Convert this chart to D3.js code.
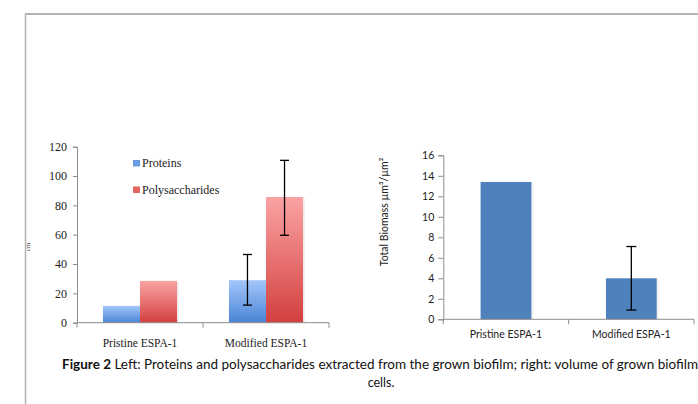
<!DOCTYPE html>
<html>
<head>
<meta charset="utf-8">
<script src="https://cdn.jsdelivr.net/npm/d3@7"></script>
<style>
	body { margin: 0; background: #fff; }
	svg { display: block; }
</style>
</head>
<body>
<div id="chart"></div>
<script>
// Data
const categories = ['Pristine ESPA-1', 'Modified ESPA-1'];
const seriesNames = ['Proteins', 'Polysaccharides'];
const proteins = [11.5, 29];
const proteinsErr = [null, [12, 46.5]];
const polysaccharides = [28.5, 85.7];
const polysaccharidesErr = [null, [59.6, 110.7]];
const leftTicks = [0, 20, 40, 60, 80, 100, 120];

const biomass = [13.4, 4.0];
const biomassErr = [null, [0.9, 7.1]];
const rightTicks = [0, 2, 4, 6, 8, 10, 12, 14, 16];

const W = 698, H = 404;
const svg = d3.select('#chart').append('svg').attr('width', W).attr('height', H);

// Gradients for the left chart bars
const defs = svg.append('defs');
function gradient(id, top, bottom) {
	const g = defs.append('linearGradient').attr('id', id).attr('x1', 0).attr('y1', 0).attr('x2', 0).attr('y2', 1);
	g.append('stop').attr('offset', '0%').attr('stop-color', top);
	g.append('stop').attr('offset', '100%').attr('stop-color', bottom);
}
gradient('gBlue', '#a3c6fa', '#4a84d6');
gradient('gRed', '#fba3a3', '#d2403e');
const fills = { Proteins: 'url(#gBlue)', Polysaccharides: 'url(#gRed)' };
const legendFills = { Proteins: '#6a9ce6', Polysaccharides: '#e46464' };

// Page frame
svg.append('line').attr('x1', 25).attr('x2', W).attr('y1', 14).attr('y2', 14).attr('stroke', '#b3b3b3').attr('stroke-width', 2);
svg.append('line').attr('x1', 25.5).attr('x2', 25.5).attr('y1', 14).attr('y2', H).attr('stroke', '#b3b3b3').attr('stroke-width', 1.5);

// ---------- Left chart ----------
const serif = '"Liberation Serif", "DejaVu Serif", serif';
const left = svg.append('g').attr('font-family', serif);

const x0 = d3.scaleBand().domain(categories).range([77, 329]).padding(0);
const x1 = d3.scaleBand().domain(seriesNames).range([0, x0.bandwidth()]).paddingInner(0).paddingOuter(0.7);
const yL = d3.scaleLinear().domain([0, 120]).range([322.7, 146.7]);

const leftRows = [];
categories.forEach((c, i) => {
	leftRows.push({ cat: c, s: 'Proteins', v: proteins[i], err: proteinsErr[i] });
	leftRows.push({ cat: c, s: 'Polysaccharides', v: polysaccharides[i], err: polysaccharidesErr[i] });
});

// soft shadow behind bars
left.selectAll('.shadow').data(leftRows).enter().append('rect')
	.attr('x', (d) => x0(d.cat) + x1(d.s) + 2)
	.attr('y', (d) => yL(d.v) + 1)
	.attr('width', x1.bandwidth())
	.attr('height', (d) => yL(0) - yL(d.v) - 1)
	.attr('fill', '#000').attr('opacity', 0.06);

left.selectAll('.bar').data(leftRows).enter().append('rect')
	.attr('x', (d) => x0(d.cat) + x1(d.s))
	.attr('y', (d) => yL(d.v))
	.attr('width', x1.bandwidth())
	.attr('height', (d) => yL(0) - yL(d.v))
	.attr('fill', (d) => fills[d.s]);

// y axis
const yAxisL = left.append('g').attr('transform', 'translate(77,0)')
	.call(d3.axisLeft(yL).tickValues(leftTicks).tickSize(4).tickPadding(6));
yAxisL.select('.domain').attr('stroke', '#8c8c8c');
yAxisL.selectAll('.tick line').attr('stroke', '#8c8c8c');
yAxisL.selectAll('text').attr('font-size', 12).attr('fill', '#222').attr('font-family', serif);

// x axis
const xAxisL = left.append('g').attr('transform', `translate(0,${yL(0)})`);
xAxisL.append('line').attr('x1', 77).attr('x2', 329).attr('stroke', '#8c8c8c');
xAxisL.selectAll('.tk').data(d3.range(categories.length + 1)).enter().append('line')
	.attr('x1', (i) => 77 + i * x0.step()).attr('x2', (i) => 77 + i * x0.step())
	.attr('y1', 0).attr('y2', 5).attr('stroke', '#8c8c8c');
xAxisL.selectAll('.lbl').data(categories).enter().append('text')
	.attr('x', (d) => x0(d) + x0.bandwidth() / 2).attr('y', 24)
	.attr('text-anchor', 'middle').attr('font-size', 11.5).attr('fill', '#222').text((d) => d);

// error bars
const errL = left.selectAll('.err').data(leftRows.filter((d) => d.err)).enter().append('g')
	.attr('stroke', '#000').attr('stroke-width', 1.3);
errL.append('line')
	.attr('x1', (d) => x0(d.cat) + x1(d.s) + x1.bandwidth() / 2).attr('x2', (d) => x0(d.cat) + x1(d.s) + x1.bandwidth() / 2)
	.attr('y1', (d) => yL(d.err[0])).attr('y2', (d) => yL(d.err[1]));
[0, 1].forEach((k) => {
	errL.append('line')
		.attr('x1', (d) => x0(d.cat) + x1(d.s) + x1.bandwidth() / 2 - 4.5).attr('x2', (d) => x0(d.cat) + x1(d.s) + x1.bandwidth() / 2 + 4.5)
		.attr('y1', (d) => yL(d.err[k])).attr('y2', (d) => yL(d.err[k]));
});

// legend
const legend = left.selectAll('.leg').data(seriesNames).enter().append('g')
	.attr('transform', (d, i) => `translate(133,${160 + i * 26.5})`);
legend.append('rect').attr('width', 7).attr('height', 6.5).attr('fill', (d) => legendFills[d]);
legend.append('text').attr('x', 9).attr('y', 7).attr('font-size', 12).attr('fill', '#222').text((d) => d);

// clipped axis title remnant
left.append('text').attr('transform', 'translate(30,247) rotate(-90)')
	.attr('text-anchor', 'middle').attr('font-size', 7).attr('fill', '#444').text('cm');

// ---------- Right chart ----------
const sans = 'Lato, "Open Sans", "Liberation Sans", sans-serif';
const right = svg.append('g').attr('font-family', sans);

const xR = d3.scaleBand().domain(categories).range([443.3, 694]).padding(0);
const yR = d3.scaleLinear().domain([0, 16]).range([319.3, 155.3]);
const barW = xR.bandwidth() * 0.405;

const rightRows = categories.map((c, i) => ({ cat: c, v: biomass[i], err: biomassErr[i] }));

right.selectAll('.shadow').data(rightRows).enter().append('rect')
	.attr('x', (d) => xR(d.cat) + (xR.bandwidth() - barW) / 2 + 2)
	.attr('y', (d) => yR(d.v) + 1)
	.attr('width', barW)
	.attr('height', (d) => yR(0) - yR(d.v) - 1)
	.attr('fill', '#000').attr('opacity', 0.06);

right.selectAll('.bar').data(rightRows).enter().append('rect')
	.attr('x', (d) => xR(d.cat) + (xR.bandwidth() - barW) / 2)
	.attr('y', (d) => yR(d.v))
	.attr('width', barW)
	.attr('height', (d) => yR(0) - yR(d.v))
	.attr('fill', '#4f81bd');

const yAxisR = right.append('g').attr('transform', 'translate(443.3,0)')
	.call(d3.axisLeft(yR).tickValues(rightTicks).tickSize(5).tickPadding(4));
yAxisR.select('.domain').attr('stroke', '#8c8c8c');
yAxisR.selectAll('.tick line').attr('stroke', '#8c8c8c');
yAxisR.selectAll('text').attr('font-size', 10.5).attr('fill', '#222').attr('font-family', sans);

const xAxisR = right.append('g').attr('transform', `translate(0,${yR(0)})`);
xAxisR.append('line').attr('x1', 443.3).attr('x2', 694).attr('stroke', '#8c8c8c');
xAxisR.selectAll('.tk').data(d3.range(categories.length + 1)).enter().append('line')
	.attr('x1', (i) => 443.3 + i * xR.step()).attr('x2', (i) => 443.3 + i * xR.step())
	.attr('y1', 0).attr('y2', 5).attr('stroke', '#8c8c8c');
xAxisR.selectAll('.lbl').data(categories).enter().append('text')
	.attr('x', (d) => xR(d) + xR.bandwidth() / 2).attr('y', 19)
	.attr('text-anchor', 'middle').attr('font-size', 10.5).attr('fill', '#222').text((d) => d);

const errR = right.selectAll('.err').data(rightRows.filter((d) => d.err)).enter().append('g')
	.attr('stroke', '#000').attr('stroke-width', 1.3);
errR.append('line')
	.attr('x1', (d) => xR(d.cat) + xR.bandwidth() / 2).attr('x2', (d) => xR(d.cat) + xR.bandwidth() / 2)
	.attr('y1', (d) => yR(d.err[0])).attr('y2', (d) => yR(d.err[1]));
[0, 1].forEach((k) => {
	errR.append('line')
		.attr('x1', (d) => xR(d.cat) + xR.bandwidth() / 2 - 5).attr('x2', (d) => xR(d.cat) + xR.bandwidth() / 2 + 5)
		.attr('y1', (d) => yR(d.err[k])).attr('y2', (d) => yR(d.err[k]));
});

right.append('text').attr('transform', 'translate(388,212) rotate(-90)')
	.attr('text-anchor', 'middle').attr('font-size', 10.5).attr('fill', '#222')
	.text('Total Biomass µm³/µm²');

// ---------- Caption ----------
const caption = svg.append('text').attr('x', 62).attr('y', 369)
	.attr('font-family', sans).attr('font-size', 12.5).attr('fill', '#111')
	.attr('textLength', 636).attr('lengthAdjust', 'spacingAndGlyphs');
caption.append('tspan').attr('font-weight', 'bold').text('Figure 2');
caption.append('tspan').text(' Left: Proteins and polysaccharides extracted from the grown biofilm; right: volume of grown biofilm');
svg.append('text').attr('x', 381).attr('y', 387).attr('text-anchor', 'middle')
	.attr('font-family', sans).attr('font-size', 12.5).attr('fill', '#111').text('cells.');
</script>
</body>
</html>
